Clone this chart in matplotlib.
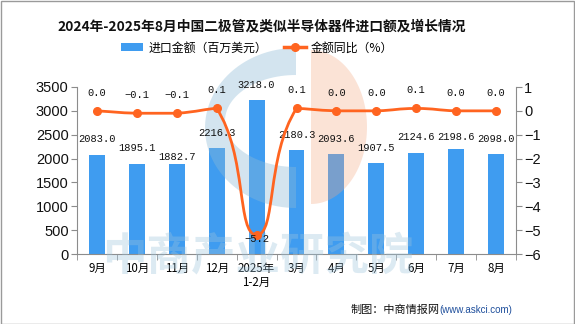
#!/usr/bin/env python3

# Bar + smoothed line chart: monthly import value of diodes and similar
# semiconductor devices (bars, left axis) and its YoY change (line, right axis).

import numpy as np
import matplotlib
matplotlib.use("Agg")
import matplotlib.pyplot as plt
from matplotlib.path import Path
from matplotlib.patches import PathPatch, Rectangle
from matplotlib.lines import Line2D
from matplotlib.patches import Patch

plt.rcParams['font.family'] = ['Noto Sans CJK SC', 'DejaVu Sans']

months = ["9月", "10月", "11月", "12月", "2025年\n1-2月", "3月", "4月", "5月", "6月", "7月", "8月"]
import_value = [2083.0, 1895.1, 1882.7, 2216.3, 3218.0, 2180.3, 2093.6, 1907.5, 2124.6, 2198.6, 2098.0]
yoy_change = [0.0, -0.1, -0.1, 0.1, -5.2, 0.1, 0.0, 0.0, 0.1, 0.0, 0.0]

BAR_COLOR = "#3f9cf0"
LINE_COLOR = "#ff6420"
W, H = 575, 324

# nudges (points) for bar labels that would otherwise collide
bar_label_offset = {2: 6, 9: 2}


def px(x, y):
    """pixel position (from top-left) -> figure fraction"""
    return x / W, 1 - y / H


def smooth_path(pts, smooth=0.5):
    """Bezier path through pts (display coords), control points kept inside each segment"""
    n = len(pts)
    cin, cout = [], []
    for i in range(n):
        p = pts[i]
        prev = pts[i - 1] if i > 0 else p
        nxt = pts[i + 1] if i < n - 1 else p
        v = nxt - prev
        l0 = np.hypot(*(p - prev))
        l1 = np.hypot(*(nxt - p))
        r = l1 / (l0 + l1) if l0 + l1 > 0 else 0.5
        ci = p - v * smooth * (1 - r)
        co = p + v * smooth * r
        ci = np.clip(ci, np.minimum(prev, p), np.maximum(prev, p))
        co = np.clip(co, np.minimum(nxt, p), np.maximum(nxt, p))
        cin.append(ci)
        cout.append(co)
    verts = [pts[0]]
    codes = [Path.MOVETO]
    for i in range(n - 1):
        verts += [cout[i], cin[i + 1], pts[i + 1]]
        codes += [Path.CURVE4] * 3
    return np.array(verts), codes


fig = plt.figure(figsize=(W / 100, H / 100), dpi=100)
fig.patch.set_facecolor("white")
ax = fig.add_axes([77 / W, 1 - 254 / H, (516 - 77) / W, (254 - 87) / H])
ax2 = ax.twinx()
ax2.set_zorder(ax.get_zorder() + 1)
ax2.patch.set_visible(False)

x = np.arange(len(months))
ax.bar(x, import_value, width=0.4, color=BAR_COLOR, zorder=2)
ax.set_xlim(-0.5, len(months) - 0.5)
ax.set_ylim(0, 3500)
ax.set_yticks(range(0, 3501, 500))
ax2.set_ylim(-6, 1)
ax2.set_yticks(range(-6, 2))

for i, v in enumerate(import_value):
    ax.annotate(f"{v:.1f}", (x[i], v), xytext=(0, 11 - bar_label_offset.get(i, 0)),
                textcoords="offset points", ha="center", va="center",
                family="Liberation Mono", fontsize=7.5, color="#111111", zorder=5)

# smoothed growth line
fig.canvas.draw()
pts = ax2.transData.transform(np.column_stack([x, yoy_change]))
verts, codes = smooth_path(pts)
verts = ax2.transData.inverted().transform(verts)
ax2.add_patch(PathPatch(Path(verts, codes), fill=False, edgecolor=LINE_COLOR,
                        linewidth=2.0, zorder=3))
ax2.plot(x, yoy_change, linestyle="none", marker="o", markersize=5.5,
         color=LINE_COLOR, zorder=4)
for i, v in enumerate(yoy_change):
    label = f"{v:.1f}".replace("-", "−")
    if v < -1:
        off = (0, -3)
    else:
        off = (0, 13)
    ax2.annotate(label, (x[i], v), xytext=off, textcoords="offset points",
                 ha="center", va="center", family=["Liberation Mono", "DejaVu Sans"],
                 fontsize=7.5, color="#111111", zorder=5)

# axes styling
for a in (ax, ax2):
    for s in a.spines.values():
        s.set_color("#8c8c8c")
    a.spines["top"].set_visible(False)
ax.spines["right"].set_visible(False)
ax2.spines["left"].set_visible(False)
ax2.spines["bottom"].set_visible(False)

ax.set_xticks(x)
ax.set_xticklabels(months, fontsize=8.3, linespacing=1.1)
ax.set_xticks(np.arange(-0.5, len(months)), minor=True)
ax.tick_params(axis="x", which="major", length=0, pad=6)
ax.tick_params(axis="x", which="minor", length=4, color="#8c8c8c")
ax.tick_params(axis="y", length=4, color="#8c8c8c", pad=2)
ax2.tick_params(axis="y", length=4, color="#8c8c8c", pad=2)
for lab in ax.get_yticklabels() + ax2.get_yticklabels():
    lab.set_family(["Liberation Sans", "DejaVu Sans"])
    lab.set_fontsize(10.5)
    lab.set_color("#111111")

# watermark: logo and agency name
def half_ellipse(cx, cy, rx, ry, a0, a1, n=60):
    t = np.linspace(a0, a1, n)
    return np.column_stack([cx + rx * np.cos(t), cy - ry * np.sin(t)])

outer = half_ellipse(296, 128, 91, 80, np.pi / 2, 3 * np.pi / 2)
inner = half_ellipse(296, 121, 71, 46, 3 * np.pi / 2, np.pi / 2)
ring = np.vstack([outer, [[296, 208], [296, 167]], inner, [[296, 75], [296, 48]]])
ring_fig = np.array([px(a, b) for a, b in ring])
logo_blue = PathPatch(Path(np.vstack([ring_fig, ring_fig[:1]]), closed=True),
                      transform=fig.transFigure, facecolor="#8dbad6", edgecolor="none",
                      alpha=0.38, zorder=2.5, clip_on=False)
ax.add_patch(logo_blue)
half = half_ellipse(311, 127, 56, 77, np.pi / 2, -np.pi / 2)
half_fig = np.array([px(a, b) for a, b in half])
logo_orange = PathPatch(Path(np.vstack([half_fig, half_fig[:1]]), closed=True),
                        transform=fig.transFigure, facecolor="#f4a882", edgecolor="none",
                        alpha=0.32, zorder=2.5, clip_on=False)
ax.add_patch(logo_orange)
ax.text(*px(258, 256), "中商产业研究院", transform=fig.transFigure, fontsize=32,
        fontweight="bold", color="#9cc3dc", alpha=0.35, ha="center", va="center",
        zorder=2.6, clip_on=False)

# title, legend, source
fig.text(*px(262, 27), "2024年-2025年8月中国二极管及类似半导体器件进口额及增长情况",
         ha="center", va="center", fontsize=9.9, fontweight="bold", color="#111111")
handles = [Patch(facecolor=BAR_COLOR, edgecolor="none"),
           Line2D([], [], color=LINE_COLOR, linewidth=2.5, marker="o", markersize=5.5)]
fig.legend(handles, ["进口金额（百万美元）", "金额同比（%）"], loc="center",
           bbox_to_anchor=px(257, 48), ncol=2, frameon=False, fontsize=8.6,
           handlelength=1.9, handleheight=0.6, handletextpad=0.4, columnspacing=1.4)

src = fig.text(*px(512, 310), "(www.askci.com)", ha="right", va="center",
               family=["Liberation Sans", "DejaVu Sans"], fontsize=7, color="#1f4f9c")
fig.add_artist(matplotlib.text.Annotation("制图：中商情报网", xy=(0, 0.5), xycoords=src,
                                          ha="right", va="center", fontsize=8,
                                          color="#111111"))

fig.add_artist(Rectangle((0.5 / W, 0.5 / H), 1 - 1.5 / W, 1 - 1.5 / H,
                         transform=fig.transFigure, fill=False,
                         edgecolor="#9a9a9a", linewidth=1))

fig.savefig("out.png", dpi=100)
